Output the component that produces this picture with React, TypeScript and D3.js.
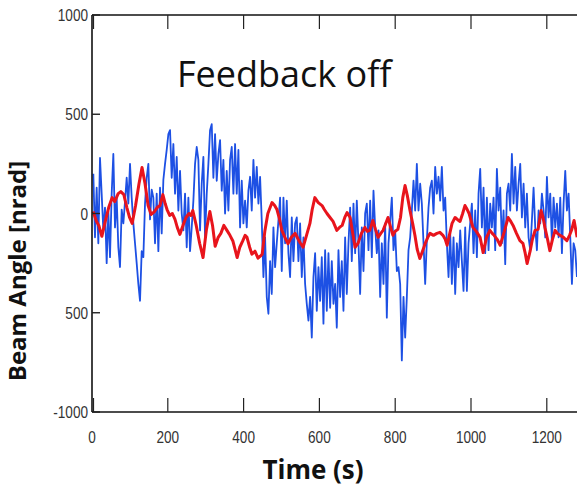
import React from "react";
import * as d3 from "d3";

// Blue trace: sampled every 4.4 s starting at 3.5 s (values in nrad)
const blueStart = 3.5;
const blueStep = 4.4;
const blueValues = [
  200,-120,130,-150,280,100,-85,30,-250,10,-220,100,300,-70,80,-170,-270,20,-50,60,
  180,50,250,80,-50,-150,-250,-355,-440,-190,-220,50,180,250,-30,120,80,-150,100,-190,
  130,-100,170,250,320,400,420,180,350,100,285,15,215,0,-85,100,-170,80,-190,-70,
  65,250,335,270,-85,150,285,-120,100,250,
  420,450,180,400,165,300,370,115,270,0,215,15,270,335,100,350,100,320,-70,165,
  -50,65,-70,115,185,15,270,80,235,50,185,-35,-320,-120,-420,-505,-240,-405,-70,-270,
  -150,-35,80,-290,80,-150,65,-200,-320,-20,-240,-50,-20,-240,-50,-320,-120,-355,-455,-540,
  -420,-625,-320,-200,-490,-270,-440,-220,-555,-185,-490,-200,
  -475,-240,-455,-355,-575,-185,-420,-240,-490,-120,-405,-150,30,-240,50,-200,65,-150,-405,-70,
  -290,0,50,-185,65,-220,115,-70,-200,-85,-420,-150,-355,-50,-525,-150,-35,80,-185,-85,
  -290,-270,-355,-740,-420,-625,-420,-185,-120,15,165,15,250,15,150,50,-150,-355,-135,30,
  130,165,0,235,100,185,65,235,15,80,-150,-320,
  -100,-355,-120,-405,-150,-270,-85,-240,-390,-70,-390,-150,-50,50,-200,15,-220,100,225,-70,
  130,-200,80,-185,50,-70,80,-185,225,15,130,-150,15,-255,100,150,15,300,50,235,
  15,150,250,-20,150,-70,100,-120,-185,-35,130,-70,-185,15,-50,100,15,-120,185,-20,
  100,-150,80,-70,50,-120,80,-200,50,215,15,100,-120,-355,-150,-185,-320,
];

// Red trace: [time s, value nrad]
const redPoints: [number, number][] = [
  [3,10],[12,-40],[18,-60],[26,-115],[35,-40],[44,30],[53,80],[60,60],[69,100],[76,110],
  [84,95],[92,30],[99,-20],[106,-50],[115,40],[124,150],[132,232],[140,150],[148,40],[156,-5],
  [165,10],[172,30],[179,40],[187,95],[193,50],[198,20],[205,-10],[212,0],[219,-30],[225,-70],
  [232,-105],[240,-60],[248,-20],[256,0],[261,-10],[266,15],[275,-60],[284,-150],[293,-222],[302,-80],
  [311,10],[318,-60],[325,-165],[333,-120],[340,-100],[348,-60],[356,-85],[364,-110],[372,-140],[383,-222],
  [390,-170],[398,-137],[404,-110],[409,-120],[416,-170],[422,-205],[430,-190],[438,-225],[444,-215],[449,-205],
  [456,-90],[464,0],[470,30],[475,55],[482,40],[488,20],[495,-30],[501,-85],[509,-120],[517,-152],
  [526,-120],[536,-100],[544,-130],[550,-150],[557,-170],[566,-110],[575,-50],[581,20],[588,80],[597,55],
  [607,40],[613,20],[620,0],[628,-20],[636,-40],[646,-85],[653,-70],[660,-60],[667,-20],[673,5],
  [681,-20],[688,-100],[694,-170],[702,-150],[711,-100],[720,-70],[726,-90],[733,-85],[741,-35],[748,-80],
  [755,-120],[762,-100],[768,-85],[775,-50],[781,-20],[788,-70],[794,-110],[800,-90],[807,-80],[814,-20],
  [820,80],[826,141],[832,90],[839,15],[846,-50],[852,-110],[858,-180],[865,-227],[872,-190],[879,-152],
  [886,-120],[892,-100],[901,-110],[910,-100],[918,-95],[926,-110],[932,-130],[937,-160],[944,-100],[950,-50],
  [958,-20],[964,-30],[971,-40],[978,0],[984,40],[990,20],[995,0],[1005,-70],[1014,-90],[1024,-120],
  [1032,-197],[1041,-120],[1050,-85],[1056,-100],[1061,-110],[1069,-130],[1077,-160],[1088,-90],[1098,-20],[1105,-40],
  [1111,-60],[1120,-100],[1129,-137],[1137,-150],[1143,-200],[1148,-252],[1156,-190],[1162,-130],[1169,-85],[1177,-80],
  [1185,15],[1190,-20],[1195,-70],[1202,-130],[1208,-187],[1215,-130],[1222,-85],[1228,-100],[1235,-110],[1244,-120],
  [1253,-137],[1260,-110],[1266,-80],[1272,-35],[1280,-120],
];

const xTicks = [0, 200, 400, 600, 800, 1000, 1200];
const xTickLabels = ["0", "200", "400", "600", "800", "1000", "1200"];
const yTicks = [-1000, -500, 0, 500, 1000];
const yTickLabels = ["-1000", "500", "0", "500", "1000"];

const title = "Feedback off";
const xTitle = "Time (s)";
const yTitle = "Beam Angle [nrad]";

export default function App() {
  const W = 577;
  const H = 489;
  const left = 92;
  const top = 15;
  const bottom = 412;
  const x = d3.scaleLinear().domain([0, 1400]).range([left, left + 1400 * 0.379]);
  const y = d3.scaleLinear().domain([-1000, 1000]).range([bottom, top]);

  const blue: [number, number][] = blueValues.map((v, i) => [blueStart + i * blueStep, v]);
  const line = d3
    .line<[number, number]>()
    .x((d) => x(d[0]))
    .y((d) => y(d[1]));

  const tickFont = "'Liberation Sans Narrow', 'Arial Narrow', 'Liberation Sans', Arial, sans-serif";

  return (
    <svg
      width={W}
      height={H}
      style={{ position: "absolute", left: 0, top: 0, background: "#fff" }}
    >
      <rect x={0} y={0} width={W} height={H} fill="#fff" />
      <path d={line(blue) || ""} fill="none" stroke="#1d50e4" strokeWidth={1.8} strokeLinejoin="round" />
      <path d={line(redPoints) || ""} fill="none" stroke="#e8141c" strokeWidth={3} strokeLinejoin="round" />

      {/* frame */}
      <line x1={left} x2={W + 10} y1={top} y2={top} stroke="#111" strokeWidth={1.6} />
      <line x1={left} x2={W + 10} y1={bottom} y2={bottom} stroke="#111" strokeWidth={1.6} />
      <line x1={left} x2={left} y1={top} y2={bottom} stroke="#111" strokeWidth={1.6} />

      {/* x ticks */}
      {xTicks.map((t, i) => (
        <g key={"xt" + t}>
          <line x1={x(t) + (t === 0 ? 1.5 : 0)} x2={x(t) + (t === 0 ? 1.5 : 0)} y1={bottom} y2={bottom - 14} stroke="#222" strokeWidth={1.2} />
          <line x1={x(t) + (t === 0 ? 1.5 : 0)} x2={x(t) + (t === 0 ? 1.5 : 0)} y1={top} y2={top + 14} stroke="#222" strokeWidth={1.2} />
          <g transform={`translate(${x(t)},${bottom + 31}) scale(0.8,1)`}>
            <text textAnchor="middle" fontFamily={tickFont} fontSize={17} fill="#333">
              {xTickLabels[i]}
            </text>
          </g>
        </g>
      ))}

      {/* y ticks */}
      {yTicks.map((t, i) => (
        <g key={"yt" + t}>
          <line x1={left} x2={left + 8} y1={y(t)} y2={y(t)} stroke="#222" strokeWidth={1.4} />
          <g transform={`translate(${left - 4},${y(t) + 6}) scale(0.8,1)`}>
            <text textAnchor="end" fontFamily={tickFont} fontSize={17} fill="#333">
              {yTickLabels[i]}
            </text>
          </g>
        </g>
      ))}

      <text x={177} y={87} fontFamily="'Open Sans', 'Noto Sans', sans-serif" fontSize={36} fill="#111">
        {title}
      </text>
      <text
        x={313}
        y={479}
        textAnchor="middle"
        fontFamily="'Open Sans', 'Noto Sans', sans-serif"
        fontWeight="bold"
        fontSize={26}
        fill="#111"
      >
        {xTitle}
      </text>
      <text
        transform={`translate(26,271) rotate(-90)`}
        textAnchor="middle"
        fontFamily="'Open Sans', 'Noto Sans', sans-serif"
        fontWeight="bold"
        fontSize={24}
        fill="#111"
      >
        {yTitle}
      </text>
    </svg>
  );
}
